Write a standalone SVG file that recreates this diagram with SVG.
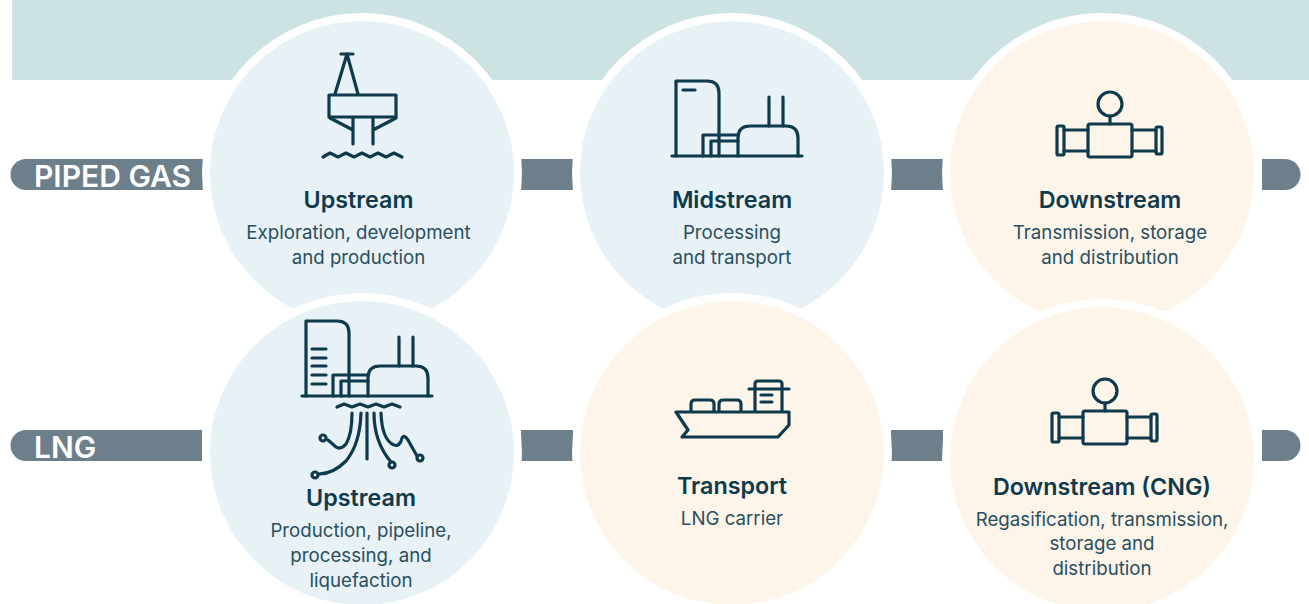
<svg xmlns="http://www.w3.org/2000/svg" width="1309" height="604" viewBox="0 0 1309 604">
<style>
.blue{fill:#e7f1f6}.cream{fill:#fdf4ea}.ring{fill:#fff}.bar{fill:#6d7f8a}
.ic{fill:none;stroke:#0e3a4c;stroke-width:3.200;stroke-linejoin:round;stroke-linecap:round}
text{font-family:"Inter","Liberation Sans",sans-serif;text-anchor:middle;fill:#0e3a4c}
.t{font-size:23.300px;font-weight:600}
.d{font-size:18.700px;fill:#2a4f5e}
.l{font-size:30px;font-weight:600;fill:#fff;text-anchor:start}
</style>
<defs>
<g id="plant" class="ic">
<path d="M-2 0H128"/>
<path d="M2 0V-75H33Q45-75 45-63V0"/>
<path d="M29 0V-21H64M37 0V-15H64"/>
<path d="M64 0V-18Q64-30 76-30H112Q124-30 124-18V0"/>
<path d="M95-30V-59M109-30V-59"/>
</g>
<g id="meter" class="ic">
<circle cx="0" cy="0" r="12"/>
<path d="M0 12V20"/>
<rect x="-22" y="20" width="44" height="33" rx="2"/>
<path d="M-22 26H-46M-22 47H-46M22 26H46M22 47H46"/>
<rect x="-53" y="22" width="7" height="29" rx="1.500"/>
<rect x="46" y="23" width="6" height="27" rx="1.500"/>
</g>
</defs>
<rect id="band" x="12" y="0" width="1297" height="80" fill="#cde3e3"/>

<g id="connectors">
<path class="bar" d="M203 159H26A15.500 15.500 0 0 0 26 190H203Z"/>
<rect class="bar" x="521" y="159" width="52" height="31"/>
<rect class="bar" x="891" y="159" width="52" height="31"/>
<path class="bar" d="M1262 159H1285A15.500 15.500 0 0 1 1285 190H1262Z"/>
<path class="bar" d="M202 430H26A15.500 15.500 0 0 0 26 461H202Z"/>
<rect class="bar" x="521" y="430" width="52" height="31"/>
<rect class="bar" x="891" y="430" width="52" height="31"/>
<path class="bar" d="M1262 430H1285A15.500 15.500 0 0 1 1285 461H1262Z"/>
</g>
<text class="l" x="34" y="186.500">PIPED GAS</text>
<text class="l" x="34" y="457.500">LNG</text>

<g id="upstream-piped">
<circle class="ring" cx="362" cy="173" r="160"/><circle class="blue" cx="362" cy="173" r="152"/>
<g class="ic"><path d="M341 54H353M347 54L335 94M347 54L358 94"/><rect x="329" y="95" width="67" height="22"/><path d="M330 118L353 130V144M396 118L373 130V144M353 118V130M373 118V130"/><path d="M323 157l7-4 8 4 8-4 8 4 8-4 8 4 8-4 8 4 8-4 8 4"/></g>
<text class="t" x="358.500" y="208">Upstream</text><text class="d" x="358.500" y="239">Exploration, development</text><text class="d" x="358.500" y="264">and production</text>
</g>
<g id="midstream">
<circle class="ring" cx="732" cy="173" r="160"/><circle class="blue" cx="732" cy="173" r="152"/>
<use href="#plant" x="674" y="156"/><path class="ic" d="M683 90H695"/>
<text class="t" x="732" y="208">Midstream</text><text class="d" x="732" y="239">Processing</text><text class="d" x="732" y="264">and transport</text>
</g>
<g id="downstream-piped">
<circle class="ring" cx="1102" cy="173" r="160"/><circle class="cream" cx="1102" cy="173" r="152"/>
<use href="#meter" x="1110" y="104"/>
<text class="t" x="1110" y="208">Downstream</text><text class="d" x="1110" y="239">Transmission, storage</text><text class="d" x="1110" y="264">and distribution</text>
</g>
<g id="upstream-lng">
<circle class="ring" cx="362" cy="453" r="160"/><circle class="blue" cx="362" cy="453" r="152"/>
<use href="#plant" x="304" y="396"/>
<g class="ic"><path d="M312 349H326M312 358H326M312 366H326M312 375H326M312 384H326"/>
<path d="M337 407l7-3 8 3 8-3 8 3 8-3 8 3 8-3 8 3"/>
<path d="M367 413V459M352 413Q352 434 346 444Q341 450 336 447L328 440M361 413Q360 444 346 461Q333 474 319 474"/>
<path d="M374 413Q374 442 391 462M381 413Q382 440 394 445Q400 447 402 438Q404 434 408 440L417 456"/>
<circle cx="323" cy="438" r="3"/><circle cx="315" cy="475" r="3"/><circle cx="392" cy="465" r="3"/><circle cx="420" cy="458" r="3"/></g>
<text class="t" x="361" y="506">Upstream</text><text class="d" x="361" y="537">Production, pipeline,</text><text class="d" x="361" y="562">processing, and</text><text class="d" x="361" y="587">liquefaction</text>
</g>
<g id="transport">
<circle class="ring" cx="732" cy="453" r="160"/><circle class="cream" cx="732" cy="453" r="152"/>
<g class="ic"><path d="M676 412H789V425L778 437H682L688 430ZM691 412V404Q691 400 695 400H710Q714 400 714 404V412M719 412V404Q719 400 723 400H737Q741 400 741 404V412M755 412V384Q755 381 758 381H779Q782 381 782 384V412M749 389H789M761 395H772M761 402H772"/></g>
<text class="t" x="732" y="494">Transport</text><text class="d" x="732" y="525">LNG carrier</text>
</g>
<g id="downstream-cng">
<circle class="ring" cx="1102" cy="459" r="160"/><circle class="cream" cx="1102" cy="459" r="152"/>
<use href="#meter" x="1105" y="391"/>
<text class="t" x="1102" y="495">Downstream (CNG)</text><text class="d" x="1102" y="526">Regasification, transmission,</text><text class="d" x="1102" y="550">storage and</text><text class="d" x="1102" y="575">distribution</text>
</g>
</svg>
